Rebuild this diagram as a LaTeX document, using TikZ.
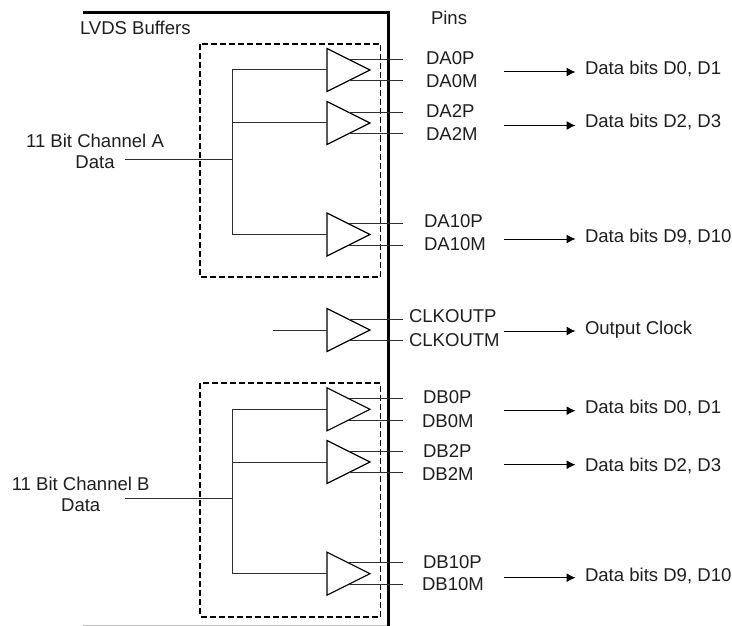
\documentclass[tikz,border=0pt]{standalone}
\usepackage{fontspec}
\usepackage{tikz}
\usetikzlibrary{arrows.meta,shapes.geometric}
\setmainfont{Liberation Sans}
\definecolor{ink}{HTML}{1E1E1E}
\definecolor{wirec}{HTML}{2E2E2E}

\begin{document}
\begin{tikzpicture}[
  x=1pt,y=-1pt,
  font=\fontsize{18.55}{21}\selectfont,
  every node/.style={text=ink,inner sep=0pt,outer sep=0pt},
  frameln/.style={draw=black,line width=2.4pt},
  dashbox/.style={draw=black,line width=1.7pt,dash pattern=on 6pt off 3pt},
  wire/.style={draw=wirec,line width=1pt},
  buf/.style={draw=black,fill=none,line width=1.2pt,isosceles triangle,isosceles triangle apex angle=53.13,isosceles triangle stretches,minimum width=43pt,minimum height=43pt,anchor=lower side},
  pin/.style={anchor=west},
  bitsout/.style={anchor=west,inner xsep=9.5pt,inner ysep=0pt},
  outarrow/.style={draw=black,line width=1pt,-{Latex[length=9pt,width=9pt]}},
]
\useasboundingbox (0,0) rectangle (732,626);

\draw[frameln] (83,12.5) -| (388.3,626);
\draw[draw=black!25,line width=0.8pt] (83,625.3) -- (387,625.3);
\draw[dashbox] (200,44) rectangle (380.5,277);
\draw[dashbox] (200,383.3) rectangle (380.5,616.7);

\node[anchor=west] (lvds) at (80,28) {LVDS Buffers};
\node[anchor=west] (pins) at (431,18) {Pins};
\node[align=center] (chana) at (95,151.5) {11 Bit Channel A\\Data};
\node[align=center] (chanb) at (80.7,494.5) {11 Bit Channel B\\Data};

\node[buf] (a0) at (327,70) {};
\node[buf] (a2) at (327,123) {};
\node[buf] (a10) at (327,234.5) {};
\node[buf] (clk) at (327,330) {};
\node[buf] (b0) at (327,409.3) {};
\node[buf] (b2) at (327,462) {};
\node[buf] (b10) at (327,573.7) {};

\coordinate (abus) at (232,159);
\coordinate (ain) at (125,159);
\coordinate (bbus) at (232,498.3);
\coordinate (bin) at (125,498.3);
\coordinate (clkin) at (273,330);

\draw[wire] (ain) -- (abus);
\draw[wire] (a0.lower side) -- (a0.lower side -| abus) -- (a10.lower side -| abus) -- (a10.lower side);
\draw[wire] (a2.lower side) -- (a2.lower side -| abus);
\draw[wire] (bin) -- (bbus);
\draw[wire] (b0.lower side) -- (b0.lower side -| bbus) -- (b10.lower side -| bbus) -- (b10.lower side);
\draw[wire] (b2.lower side) -- (b2.lower side -| bbus);
\draw[wire] (clkin) -- (clk.lower side);

\draw[wire] (a0.left side) -- ++(54,0);
\draw[wire] (a0.right side) -- ++(54,0);
\draw[wire] (a2.left side) -- ++(54,0);
\draw[wire] (a2.right side) -- ++(54,0);
\draw[wire] (a10.left side) -- ++(54,0);
\draw[wire] (a10.right side) -- ++(54,0);
\draw[wire] (clk.left side) -- ++(54,0);
\draw[wire] (clk.right side) -- ++(54,0);
\draw[wire] (b0.left side) -- ++(54,0);
\draw[wire] (b0.right side) -- ++(54,0);
\draw[wire] (b2.left side) -- ++(54,0);
\draw[wire] (b2.right side) -- ++(54,0);
\draw[wire] (b10.left side) -- ++(54,0);
\draw[wire] (b10.right side) -- ++(54,0);

\node[pin] (da0p) at (426,58) {DA0P};
\node[pin] (da0m) at (426,81) {DA0M};
\node[pin] (da2p) at (426,111) {DA2P};
\node[pin] (da2m) at (426,134) {DA2M};
\node[pin] (da10p) at (424,221) {DA10P};
\node[pin] (da10m) at (424,244) {DA10M};
\node[pin] (clkp) at (409,316) {CLKOUTP};
\node[pin] (clkm) at (409,340) {CLKOUTM};
\node[pin] (db0p) at (423,397) {DB0P};
\node[pin] (db0m) at (422,420.7) {DB0M};
\node[pin] (db2p) at (423,450.7) {DB2P};
\node[pin] (db2m) at (422,474) {DB2M};
\node[pin] (db10p) at (423,561.7) {DB10P};
\node[pin] (db10m) at (422,584) {DB10M};

\node[bitsout] (outa0) at (575.5,69) {Data bits D0, D1};
\node[bitsout] (outa2) at (575.5,122) {Data bits D2, D3};
\node[bitsout] (outa10) at (575.5,237) {Data bits D9, D10};
\node[bitsout] (outclk) at (575.5,330) {Output Clock};
\node[bitsout] (outb0) at (575.5,408.3) {Data bits D0, D1};
\node[bitsout] (outb2) at (575.5,465.7) {Data bits D2, D3};
\node[bitsout] (outb10) at (575.5,575.7) {Data bits D9, D10};

\coordinate (ta0) at (504,72);
\coordinate (ta2) at (504,125.5);
\coordinate (ta10) at (504,239);
\coordinate (tclk) at (504,331);
\coordinate (tb0) at (504,410.7);
\coordinate (tb2) at (504,464.7);
\coordinate (tb10) at (504,577.7);

\draw[outarrow] (ta0) -- (outa0.west |- ta0);
\draw[outarrow] (ta2) -- (outa2.west |- ta2);
\draw[outarrow] (ta10) -- (outa10.west |- ta10);
\draw[outarrow] (tclk) -- (outclk.west |- tclk);
\draw[outarrow] (tb0) -- (outb0.west |- tb0);
\draw[outarrow] (tb2) -- (outb2.west |- tb2);
\draw[outarrow] (tb10) -- (outb10.west |- tb10);
\end{tikzpicture}
\end{document}
